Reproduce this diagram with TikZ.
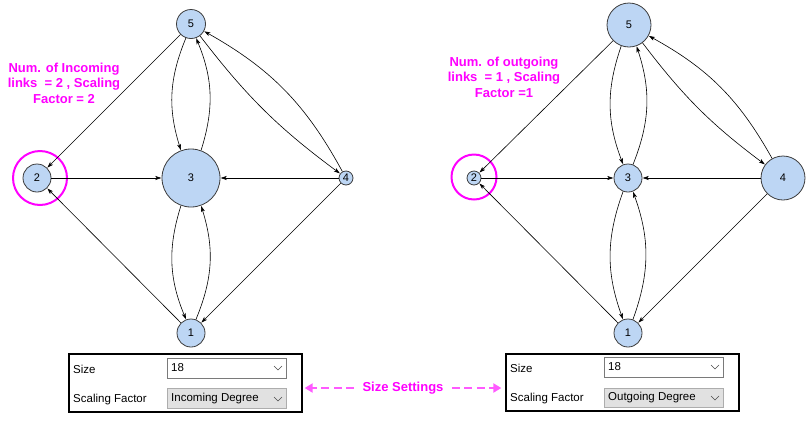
\documentclass[tikz,border=0pt]{standalone}
\usepackage{fontspec}
\setmainfont{Liberation Sans}
\usetikzlibrary{arrows.meta}
\definecolor{nodefill}{RGB}{189,214,244}
\definecolor{nodeedge}{RGB}{60,60,60}
\definecolor{mag}{RGB}{255,0,255}
\definecolor{pinkarrow}{RGB}{255,90,255}
\definecolor{ddgray}{RGB}{225,225,225}
\definecolor{ddborder}{RGB}{122,122,122}
\definecolor{ddborder2}{RGB}{173,173,173}
\tikzset{
  gnode/.style={circle,draw=nodeedge,fill=nodefill,line width=0.8pt,inner sep=0pt,minimum size=#1,font=\fontsize{11}{11}\selectfont},
  link/.style={draw=black,line width=0.6pt,-{Stealth[length=6pt,width=4pt,inset=1.5pt]},shorten >=0.3pt},
  hilite/.style={circle,draw=mag,line width=2pt,inner sep=0pt,minimum size=#1},
  note/.style={text=mag,font=\bfseries\fontsize{13}{15.5}\selectfont,align=center},
  panel/.style={draw=black,line width=1.3pt},
  dropwhite/.style={draw=ddborder,fill=white,line width=0.8pt},
  dropgray/.style={draw=ddborder2,fill=ddgray,line width=0.8pt},
  ptext/.style={anchor=west,font=\fontsize{11.5}{12}\selectfont,inner sep=0pt},
  chev/.style={draw=black!70,line width=0.6pt},
  setarrow/.style={draw=pinkarrow,line width=2.6pt,dash pattern=on 8pt off 4.5pt,-{Triangle[length=8pt,width=9pt]}}
}
\begin{document}
\begin{tikzpicture}[x=1pt,y=-1pt]
\useasboundingbox (0,0) rectangle (811,424);
% ---------- left graph ----------
\node[hilite=54pt] (h2a) at (40,178) {};
\node[gnode=29pt] (a5) at (191,24) {5};
\node[gnode=28pt] (a2) at (37,178) {2};
\node[gnode=58pt] (a3) at (191,178) {3};
\node[gnode=14pt] (a4) at (346,178) {4};
\node[gnode=28pt] (a1) at (191,333) {1};
\draw[link] (a5) -- (a2);
\draw[link] (a5) to[bend right=20] (a3);
\draw[link] (a3) to[bend right=20] (a5);
\draw[link] (a5) to[bend right=8] (a4);
\draw[link] (a4) to[bend right=16] (a5);
\draw[link] (a2) -- (a3);
\draw[link] (a4) -- (a3);
\draw[link] (a3) to[bend right=20] (a1);
\draw[link] (a1) to[bend right=20] (a3);
\draw[link] (a1) -- (a2);
\draw[link] (a4) -- (a1);
\node[note] (na) at (64,83) {Num. of Incoming\\links\ \ = 2 , Scaling\\Factor = 2};
% ---------- right graph ----------
\node[hilite=45pt] (h2b) at (474,177) {};
\node[gnode=44pt] (b5) at (629,25) {5};
\node[gnode=14pt] (b2) at (474,178) {2};
\node[gnode=28pt] (b3) at (628,178) {3};
\node[gnode=44pt] (b4) at (783,178) {4};
\node[gnode=28pt] (b1) at (628,333) {1};
\draw[link] (b5) -- (b2);
\draw[link] (b5) to[bend right=20] (b3);
\draw[link] (b3) to[bend right=20] (b5);
\draw[link] (b5) to[bend right=8] (b4);
\draw[link] (b4) to[bend right=16] (b5);
\draw[link] (b2) -- (b3);
\draw[link] (b4) -- (b3);
\draw[link] (b3) to[bend right=20] (b1);
\draw[link] (b1) to[bend right=20] (b3);
\draw[link] (b1) -- (b2);
\draw[link] (b4) -- (b1);
\node[note] (nb) at (504,77) {Num. of outgoing\\links\ \ = 1 , Scaling\\Factor =1};
% ---------- left settings panel ----------
\node[panel,minimum width=233pt,minimum height=58pt,inner sep=0pt] (pa) at (185.5,383) {};
\draw[dropwhite] (167,358) rectangle (286,378);
\draw[dropgray] (167,388) rectangle (286,408);
\node[ptext] (pa1) at (73,369) {Size};
\node[ptext] (pa2) at (73,400) {Scaling Factor};
\node[ptext] (pa3) at (171,368) {18};
\node[ptext] (pa4) at (171,398.5) {Incoming Degree};
\draw[chev] (274,366) -- (278,370) -- (282,366);
\draw[chev] (274,397) -- (278,401) -- (282,397);
% ---------- right settings panel ----------
\node[panel,minimum width=233pt,minimum height=57pt,inner sep=0pt] (pb) at (622.5,382.5) {};
\draw[dropwhite] (604,357) rectangle (723,377);
\draw[dropgray] (604,388) rectangle (723,407);
\node[ptext] (pb1) at (510,368) {Size};
\node[ptext] (pb2) at (510,399) {Scaling Factor};
\node[ptext] (pb3) at (608,367) {18};
\node[ptext] (pb4) at (608,397.5) {Outgoing Degree};
\draw[chev] (711,365) -- (715,369) -- (719,365);
\draw[chev] (711,396) -- (715,400) -- (719,396);
% ---------- size settings ----------
\node[text=mag,font=\bfseries\fontsize{13}{13}\selectfont] (ss) at (403,388) {Size Settings};
\draw[setarrow] ([xshift=-5pt]ss.west) -- ([xshift=2pt]pa.east |- ss.west);
\draw[setarrow] ([xshift=5pt]ss.east) -- ([xshift=-4pt]pb.west |- ss.east);
\end{tikzpicture}
\end{document}
